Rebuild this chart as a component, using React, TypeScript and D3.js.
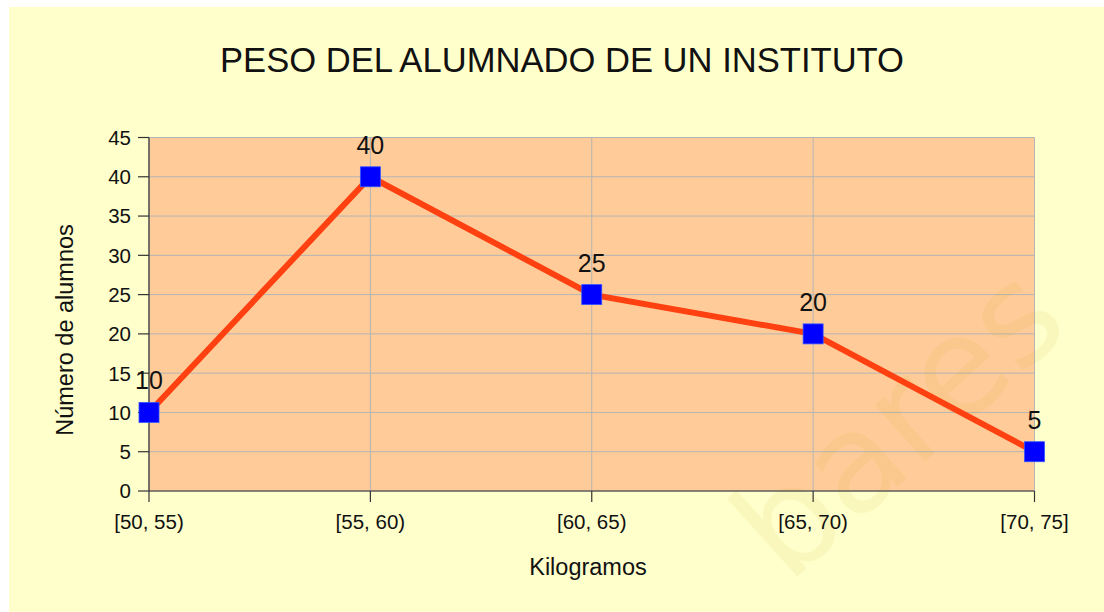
import React from "react";
import * as d3 from "d3";

const categories = ["[50, 55)", "[55, 60)", "[60, 65)", "[65, 70)", "[70, 75]"];
const values = [10, 40, 25, 20, 5];
const yTicks = [0, 5, 10, 15, 20, 25, 30, 35, 40, 45];
const title = "PESO DEL ALUMNADO DE UN INSTITUTO";
const xTitle = "Kilogramos";
const yTitle = "Número de alumnos";
const watermark = "bares";

const W = 1104;
const H = 612;
const plot = { left: 149, right: 1034.5, top: 137.5, bottom: 491 };
const FONT = "'Liberation Sans', Arial, Helvetica, sans-serif";

export default function App() {
  const x = d3.scalePoint<string>().domain(categories).range([plot.left, plot.right]);
  const y = d3.scaleLinear().domain([0, 45]).range([plot.bottom, plot.top]);
  const line = d3
    .line<number>()
    .x((_, i) => x(categories[i]) as number)
    .y((d) => y(d));

  return (
    <svg
      width={W}
      height={H}
      style={{ position: "absolute", left: 0, top: 0, display: "block" }}
      fontFamily={FONT}
    >
      <rect x={0} y={0} width={W} height={H} fill="#ffffff" />
      <rect x={9} y={7} width={W - 9} height={H - 7} fill="#FFFFCC" />
      <rect
        x={plot.left}
        y={plot.top}
        width={plot.right - plot.left}
        height={plot.bottom - plot.top}
        fill="#FFCC99"
      />
      {/* gridlines */}
      {yTicks.map((t) => (
        <line
          key={"gy" + t}
          x1={plot.left}
          x2={plot.right}
          y1={y(t)}
          y2={y(t)}
          stroke="#B4B4B4"
          strokeWidth={1}
        />
      ))}
      {categories.map((c) => (
        <line
          key={"gx" + c}
          x1={x(c)}
          x2={x(c)}
          y1={plot.top}
          y2={plot.bottom}
          stroke="#B4B4B4"
          strokeWidth={1}
        />
      ))}
      {/* watermark */}
      <text
        x={0}
        y={0}
        transform="translate(788,585) rotate(-42)"
        fontFamily="'DejaVu Sans', sans-serif"
        fontSize={138}
        fill="#C8A000"
        opacity={0.07}
      >
        {watermark}
      </text>
      {/* axes */}
      <line x1={plot.left} x2={plot.left} y1={plot.top} y2={plot.bottom} stroke="#333333" strokeWidth={1.2} />
      <line x1={plot.left} x2={plot.right} y1={plot.bottom} y2={plot.bottom} stroke="#333333" strokeWidth={1.2} />
      {yTicks.map((t) => (
        <g key={"ty" + t}>
          <line x1={plot.left - 11} x2={plot.left} y1={y(t)} y2={y(t)} stroke="#333333" strokeWidth={1.2} />
          <text
            x={plot.left - 18}
            y={y(t)}
            dy="0.36em"
            textAnchor="end"
            fontSize={20.5}
            fill="#111"
          >
            {t}
          </text>
        </g>
      ))}
      {categories.map((c) => (
        <g key={"tx" + c}>
          <line x1={x(c)} x2={x(c)} y1={plot.bottom} y2={plot.bottom + 11} stroke="#333333" strokeWidth={1.2} />
          <text x={x(c)} y={529} textAnchor="middle" fontSize={20.5} fill="#111">
            {c}
          </text>
        </g>
      ))}
      {/* series line */}
      <path d={line(values) || ""} fill="none" stroke="#FF4010" strokeWidth={6} strokeLinejoin="miter" />
      {values.map((v, i) => (
        <rect
          key={"m" + i}
          x={(x(categories[i]) as number) - 10}
          y={y(v) - 10}
          width={20}
          height={20}
          fill="#0000FF"
          stroke="#3355FF"
          strokeWidth={0.8}
        />
      ))}
      {values.map((v, i) => (
        <text
          key={"l" + i}
          x={x(categories[i]) as number}
          y={y(v) - 23}
          textAnchor="middle"
          fontSize={25}
          fill="#111"
        >
          {v}
        </text>
      ))}
      {/* titles */}
      <text x={562} y={72} textAnchor="middle" fontSize={34.6} fill="#111">
        {title}
      </text>
      <text x={588} y={575} textAnchor="middle" fontSize={23.5} fill="#111">
        {xTitle}
      </text>
      <text
        transform="translate(73,330) rotate(-90)"
        textAnchor="middle"
        fontSize={23.5}
        fill="#111"
      >
        {yTitle}
      </text>
    </svg>
  );
}
